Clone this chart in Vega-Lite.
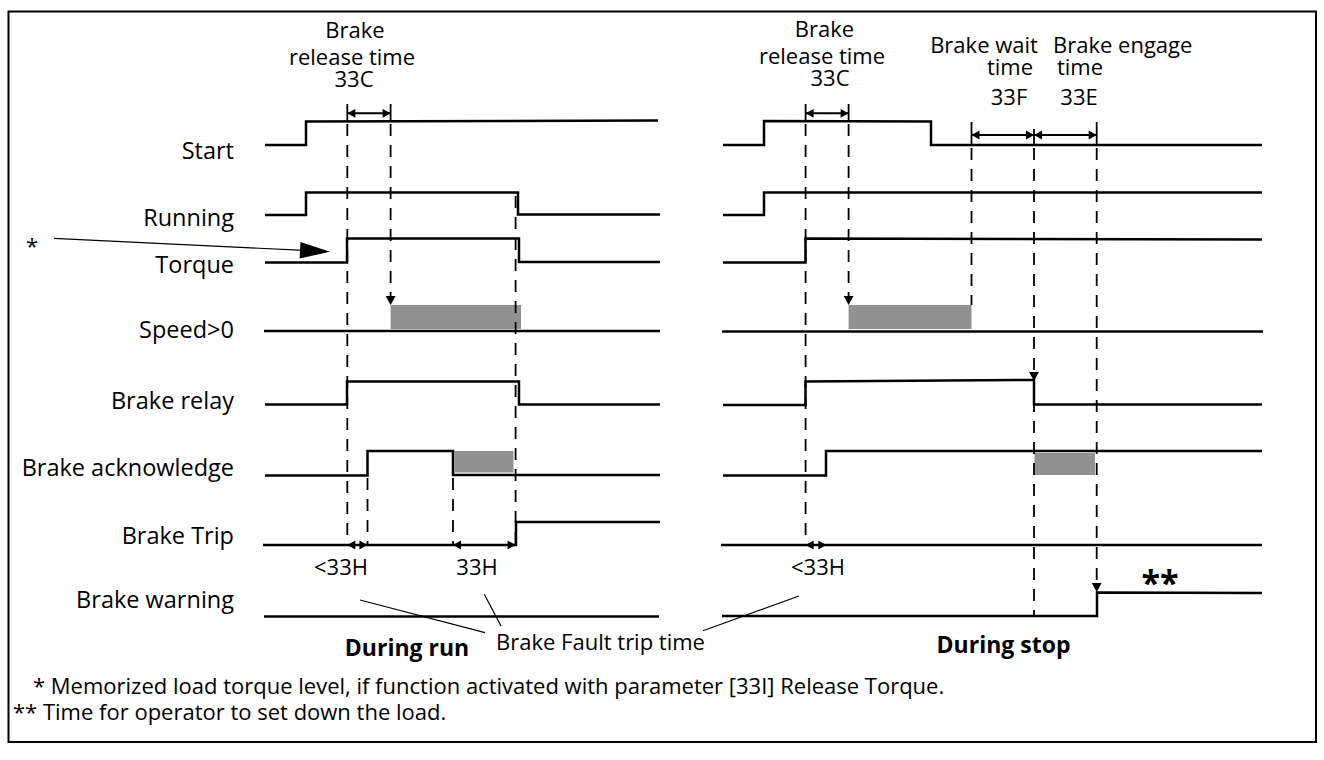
{
  "$schema": "https://vega.github.io/schema/vega-lite/v6.json",
  "width": 1324,
  "height": 760,
  "autosize": {"type": "fit", "contains": "padding"},
  "padding": 0,
  "background": "white",
  "config": {"view": {"stroke": null}, "text": {"font": "Open Sans", "color": "black"}},
  "datasets": {
    "border": [{"x": 8.5, "x2": 1316, "y": 11.5, "y2": 742}],
    "signals": [
      {"s": "L_start", "i": 0, "x": 265, "y": 145}, {"s": "L_start", "i": 1, "x": 306, "y": 145}, {"s": "L_start", "i": 2, "x": 306, "y": 121.5}, {"s": "L_start", "i": 3, "x": 658, "y": 120.5},
      {"s": "L_run", "i": 0, "x": 265, "y": 215}, {"s": "L_run", "i": 1, "x": 306, "y": 215}, {"s": "L_run", "i": 2, "x": 306, "y": 192.5}, {"s": "L_run", "i": 3, "x": 518, "y": 192.5}, {"s": "L_run", "i": 4, "x": 518, "y": 214.5}, {"s": "L_run", "i": 5, "x": 660, "y": 214.5},
      {"s": "L_torque", "i": 0, "x": 265, "y": 262.5}, {"s": "L_torque", "i": 1, "x": 347, "y": 262.5}, {"s": "L_torque", "i": 2, "x": 347, "y": 238.5}, {"s": "L_torque", "i": 3, "x": 519, "y": 238.5}, {"s": "L_torque", "i": 4, "x": 519, "y": 262}, {"s": "L_torque", "i": 5, "x": 660, "y": 262},
      {"s": "L_speed", "i": 0, "x": 264, "y": 331}, {"s": "L_speed", "i": 1, "x": 660, "y": 331},
      {"s": "L_relay", "i": 0, "x": 265, "y": 404.5}, {"s": "L_relay", "i": 1, "x": 347, "y": 404.5}, {"s": "L_relay", "i": 2, "x": 347, "y": 381.5}, {"s": "L_relay", "i": 3, "x": 519, "y": 381.5}, {"s": "L_relay", "i": 4, "x": 519, "y": 404.5}, {"s": "L_relay", "i": 5, "x": 660, "y": 404.5},
      {"s": "L_ack", "i": 0, "x": 265, "y": 475.5}, {"s": "L_ack", "i": 1, "x": 367.5, "y": 475.5}, {"s": "L_ack", "i": 2, "x": 367.5, "y": 451}, {"s": "L_ack", "i": 3, "x": 453, "y": 451}, {"s": "L_ack", "i": 4, "x": 453, "y": 475}, {"s": "L_ack", "i": 5, "x": 660, "y": 475},
      {"s": "L_trip", "i": 0, "x": 263, "y": 545}, {"s": "L_trip", "i": 1, "x": 516, "y": 545}, {"s": "L_trip", "i": 2, "x": 516, "y": 522}, {"s": "L_trip", "i": 3, "x": 660, "y": 522},
      {"s": "L_warn", "i": 0, "x": 264, "y": 616.5}, {"s": "L_warn", "i": 1, "x": 659, "y": 616.5},
      {"s": "R_start", "i": 0, "x": 723, "y": 145}, {"s": "R_start", "i": 1, "x": 764, "y": 145}, {"s": "R_start", "i": 2, "x": 764, "y": 121}, {"s": "R_start", "i": 3, "x": 931, "y": 121.5}, {"s": "R_start", "i": 4, "x": 931, "y": 145}, {"s": "R_start", "i": 5, "x": 1262, "y": 145},
      {"s": "R_run", "i": 0, "x": 723, "y": 215}, {"s": "R_run", "i": 1, "x": 764, "y": 215}, {"s": "R_run", "i": 2, "x": 764, "y": 192.5}, {"s": "R_run", "i": 3, "x": 1262, "y": 192.5},
      {"s": "R_torque", "i": 0, "x": 723, "y": 262.5}, {"s": "R_torque", "i": 1, "x": 805.5, "y": 262.5}, {"s": "R_torque", "i": 2, "x": 805.5, "y": 238.5}, {"s": "R_torque", "i": 3, "x": 1262, "y": 239.5},
      {"s": "R_speed", "i": 0, "x": 722, "y": 331.5}, {"s": "R_speed", "i": 1, "x": 1263, "y": 331.5},
      {"s": "R_relay", "i": 0, "x": 723, "y": 405}, {"s": "R_relay", "i": 1, "x": 805.5, "y": 405}, {"s": "R_relay", "i": 2, "x": 805.5, "y": 381.5}, {"s": "R_relay", "i": 3, "x": 1034, "y": 380}, {"s": "R_relay", "i": 4, "x": 1034, "y": 404.5}, {"s": "R_relay", "i": 5, "x": 1262, "y": 404.5},
      {"s": "R_ack", "i": 0, "x": 723, "y": 475.5}, {"s": "R_ack", "i": 1, "x": 826, "y": 475.5}, {"s": "R_ack", "i": 2, "x": 826, "y": 451}, {"s": "R_ack", "i": 3, "x": 1262, "y": 451},
      {"s": "R_trip", "i": 0, "x": 721, "y": 545}, {"s": "R_trip", "i": 1, "x": 1262, "y": 545},
      {"s": "R_warn", "i": 0, "x": 722, "y": 616}, {"s": "R_warn", "i": 1, "x": 1097, "y": 616}, {"s": "R_warn", "i": 2, "x": 1097, "y": 592.5}, {"s": "R_warn", "i": 3, "x": 1262, "y": 593}
    ],
    "boxes": [
      {"x": 390.6, "x2": 521, "y": 305, "y2": 329},
      {"x": 454.5, "x2": 513.5, "y": 451, "y2": 472.5},
      {"x": 848.6, "x2": 971.5, "y": 305, "y2": 329},
      {"x": 1034.5, "x2": 1095, "y": 453, "y2": 475}
    ],
    "dashes": [
      {"x": 347.3, "y": 124, "y2": 545}, {"x": 390.6, "y": 124, "y2": 300}, {"x": 515.6, "y": 196, "y2": 545}, {"x": 367.5, "y": 478, "y2": 545}, {"x": 453, "y": 478, "y2": 545},
      {"x": 805.6, "y": 124, "y2": 545}, {"x": 848.6, "y": 124, "y2": 300}, {"x": 971.5, "y": 148, "y2": 305}, {"x": 1034, "y": 148, "y2": 616}, {"x": 1096.7, "y": 148, "y2": 586}
    ],
    "ticks": [
      {"x": 347.3, "y": 104, "y2": 121}, {"x": 390.6, "y": 104, "y2": 121}, {"x": 805.6, "y": 104, "y2": 121}, {"x": 848.6, "y": 104, "y2": 121},
      {"x": 971.5, "y": 122, "y2": 145}, {"x": 1034, "y": 129, "y2": 145}, {"x": 1096.7, "y": 122, "y2": 145}
    ],
    "shafts": [
      {"x": 347.3, "x2": 390.6, "y": 113.3}, {"x": 805.6, "x2": 848.6, "y": 113.3}, {"x": 971.5, "x2": 1096.7, "y": 135}
    ],
    "heads": [
      {"d": "right", "x": 390.6, "y": 113.3}, {"d": "right", "x": 848.6, "y": 113.3}, {"d": "right", "x": 1034, "y": 135}, {"d": "right", "x": 1096.7, "y": 135},
      {"d": "right", "x": 367.4, "y": 545}, {"d": "right", "x": 515.6, "y": 545}, {"d": "right", "x": 826.3, "y": 545},
      {"d": "left", "x": 347.3, "y": 113.3}, {"d": "left", "x": 805.6, "y": 113.3}, {"d": "left", "x": 971.5, "y": 135}, {"d": "left", "x": 1034, "y": 135},
      {"d": "left", "x": 347.3, "y": 545}, {"d": "left", "x": 453, "y": 545}, {"d": "left", "x": 805.6, "y": 545},
      {"d": "down", "x": 390.6, "y": 305}, {"d": "down", "x": 848.6, "y": 305}, {"d": "down", "x": 1034, "y": 381}, {"d": "down", "x": 1096.7, "y": 592},
      {"d": "big", "x": 330, "y": 251.7}
    ],
    "leaders": [
      {"x": 54, "y": 238.3, "x2": 304, "y2": 250.4},
      {"x": 360, "y": 600, "x2": 485, "y2": 632.7},
      {"x": 484.3, "y": 594.3, "x2": 501, "y2": 626},
      {"x": 703, "y": 630.7, "x2": 799, "y2": 596}
    ],
    "labels": [
      {"t": "Start", "x": 234, "y": 158.5}, {"t": "Running", "x": 234, "y": 225.5}, {"t": "Torque", "x": 234, "y": 272.5}, {"t": "Speed>0", "x": 234, "y": 337.5},
      {"t": "Brake relay", "x": 234, "y": 408.5}, {"t": "Brake acknowledge", "x": 234, "y": 475.5}, {"t": "Brake Trip", "x": 234, "y": 543.5}, {"t": "Brake warning", "x": 234, "y": 607.5}
    ],
    "ctext": [
      {"t": "Brake", "x": 355, "y": 38}, {"t": "release time", "x": 352, "y": 64.5}, {"t": "33C", "x": 354, "y": 86.5},
      {"t": "Brake", "x": 824.5, "y": 36.5}, {"t": "release time", "x": 822, "y": 63.5}, {"t": "33C", "x": 830, "y": 86},
      {"t": "Brake wait", "x": 984, "y": 53.3}, {"t": "time", "x": 1010, "y": 75}, {"t": "33F", "x": 1009, "y": 105},
      {"t": "time", "x": 1080, "y": 75}, {"t": "33E", "x": 1079, "y": 105},
      {"t": "<33H", "x": 341, "y": 575}, {"t": "33H", "x": 477, "y": 575}, {"t": "<33H", "x": 818, "y": 575},
      {"t": "Brake Fault trip time", "x": 600.5, "y": 650},
      {"t": "*", "x": 32, "y": 254}
    ],
    "ltext": [
      {"t": "Brake engage", "x": 1053, "y": 53.3}
    ],
    "btext": [
      {"t": "During run", "x": 407, "y": 656}, {"t": "During stop", "x": 1003.5, "y": 653}
    ],
    "stars": [
      {"t": "**", "x": 1160, "y": 595}
    ],
    "notes": [
      {"t": "* Memorized load torque level, if function activated with parameter [33I] Release Torque.", "x": 33, "y": 694},
      {"t": "** Time for operator to set down the load.", "x": 13, "y": 720}
    ]
  },
  "layer": [
    {
      "data": {"name": "border"},
      "mark": {"type": "rect", "fill": null, "stroke": "black", "strokeWidth": 2},
      "encoding": {
        "x": {"field": "x", "type": "quantitative", "scale": {"domain": [0, 1324], "nice": false, "zero": false}, "axis": null},
        "x2": {"field": "x2"},
        "y": {"field": "y", "type": "quantitative", "scale": {"domain": [0, 760], "nice": false, "zero": false, "reverse": true}, "axis": null},
        "y2": {"field": "y2"}
      }
    },
    {
      "data": {"name": "boxes"},
      "mark": {"type": "rect", "fill": "#919191", "stroke": null},
      "encoding": {
        "x": {"field": "x", "type": "quantitative", "axis": null}, "x2": {"field": "x2"},
        "y": {"field": "y", "type": "quantitative", "axis": null}, "y2": {"field": "y2"}
      }
    },
    {
      "data": {"name": "dashes"},
      "mark": {"type": "rule", "color": "black", "strokeWidth": 1.8, "strokeDash": [12, 9]},
      "encoding": {
        "x": {"field": "x", "type": "quantitative", "axis": null},
        "y": {"field": "y", "type": "quantitative", "axis": null}, "y2": {"field": "y2"}
      }
    },
    {
      "data": {"name": "ticks"},
      "mark": {"type": "rule", "color": "black", "strokeWidth": 1.8},
      "encoding": {
        "x": {"field": "x", "type": "quantitative", "axis": null},
        "y": {"field": "y", "type": "quantitative", "axis": null}, "y2": {"field": "y2"}
      }
    },
    {
      "data": {"name": "shafts"},
      "mark": {"type": "rule", "color": "black", "strokeWidth": 2},
      "encoding": {
        "x": {"field": "x", "type": "quantitative", "axis": null}, "x2": {"field": "x2"},
        "y": {"field": "y", "type": "quantitative", "axis": null}
      }
    },
    {
      "data": {"name": "leaders"},
      "mark": {"type": "rule", "color": "black", "strokeWidth": 1.2},
      "encoding": {
        "x": {"field": "x", "type": "quantitative", "axis": null}, "x2": {"field": "x2"},
        "y": {"field": "y", "type": "quantitative", "axis": null}, "y2": {"field": "y2"}
      }
    },
    {
      "data": {"name": "signals"},
      "mark": {"type": "line", "color": "black", "strokeWidth": 2.5, "strokeCap": "butt", "strokeJoin": "miter"},
      "encoding": {
        "x": {"field": "x", "type": "quantitative", "axis": null},
        "y": {"field": "y", "type": "quantitative", "axis": null},
        "detail": {"field": "s"},
        "order": {"field": "i", "type": "quantitative"}
      }
    },
    {
      "data": {"name": "heads"},
      "transform": [{"filter": "datum.d === 'right'"}],
      "mark": {"type": "point", "shape": "M0,0L-2,-1.1L-2,1.1Z", "size": 64, "filled": true, "color": "black", "opacity": 1, "strokeWidth": 0},
      "encoding": {"x": {"field": "x", "type": "quantitative", "axis": null}, "y": {"field": "y", "type": "quantitative", "axis": null}}
    },
    {
      "data": {"name": "heads"},
      "transform": [{"filter": "datum.d === 'left'"}],
      "mark": {"type": "point", "shape": "M0,0L2,-1.1L2,1.1Z", "size": 64, "filled": true, "color": "black", "opacity": 1, "strokeWidth": 0},
      "encoding": {"x": {"field": "x", "type": "quantitative", "axis": null}, "y": {"field": "y", "type": "quantitative", "axis": null}}
    },
    {
      "data": {"name": "heads"},
      "transform": [{"filter": "datum.d === 'down'"}],
      "mark": {"type": "point", "shape": "M0,0L-1.1,-2L1.1,-2Z", "size": 81, "filled": true, "color": "black", "opacity": 1, "strokeWidth": 0},
      "encoding": {"x": {"field": "x", "type": "quantitative", "axis": null}, "y": {"field": "y", "type": "quantitative", "axis": null}}
    },
    {
      "data": {"name": "heads"},
      "transform": [{"filter": "datum.d === 'big'"}],
      "mark": {"type": "point", "shape": "M0,0L-2,-0.55L-2,0.55Z", "size": 900, "angle": 2.8, "filled": true, "color": "black", "opacity": 1, "strokeWidth": 0},
      "encoding": {"x": {"field": "x", "type": "quantitative", "axis": null}, "y": {"field": "y", "type": "quantitative", "axis": null}}
    },
    {
      "data": {"name": "labels"},
      "mark": {"type": "text", "align": "right", "baseline": "alphabetic", "fontSize": 23.5},
      "encoding": {"x": {"field": "x", "type": "quantitative", "axis": null}, "y": {"field": "y", "type": "quantitative", "axis": null}, "text": {"field": "t"}}
    },
    {
      "data": {"name": "ctext"},
      "mark": {"type": "text", "align": "center", "baseline": "alphabetic", "fontSize": 22},
      "encoding": {"x": {"field": "x", "type": "quantitative", "axis": null}, "y": {"field": "y", "type": "quantitative", "axis": null}, "text": {"field": "t"}}
    },
    {
      "data": {"name": "ltext"},
      "mark": {"type": "text", "align": "left", "baseline": "alphabetic", "fontSize": 22},
      "encoding": {"x": {"field": "x", "type": "quantitative", "axis": null}, "y": {"field": "y", "type": "quantitative", "axis": null}, "text": {"field": "t"}}
    },
    {
      "data": {"name": "btext"},
      "mark": {"type": "text", "align": "center", "baseline": "alphabetic", "fontSize": 23, "fontWeight": "bold"},
      "encoding": {"x": {"field": "x", "type": "quantitative", "axis": null}, "y": {"field": "y", "type": "quantitative", "axis": null}, "text": {"field": "t"}}
    },
    {
      "data": {"name": "stars"},
      "mark": {"type": "text", "align": "center", "baseline": "alphabetic", "fontSize": 34, "fontWeight": "bold"},
      "encoding": {"x": {"field": "x", "type": "quantitative", "axis": null}, "y": {"field": "y", "type": "quantitative", "axis": null}, "text": {"field": "t"}}
    },
    {
      "data": {"name": "notes"},
      "mark": {"type": "text", "align": "left", "baseline": "alphabetic", "fontSize": 22},
      "encoding": {"x": {"field": "x", "type": "quantitative", "axis": null}, "y": {"field": "y", "type": "quantitative", "axis": null}, "text": {"field": "t"}}
    }
  ]
}
